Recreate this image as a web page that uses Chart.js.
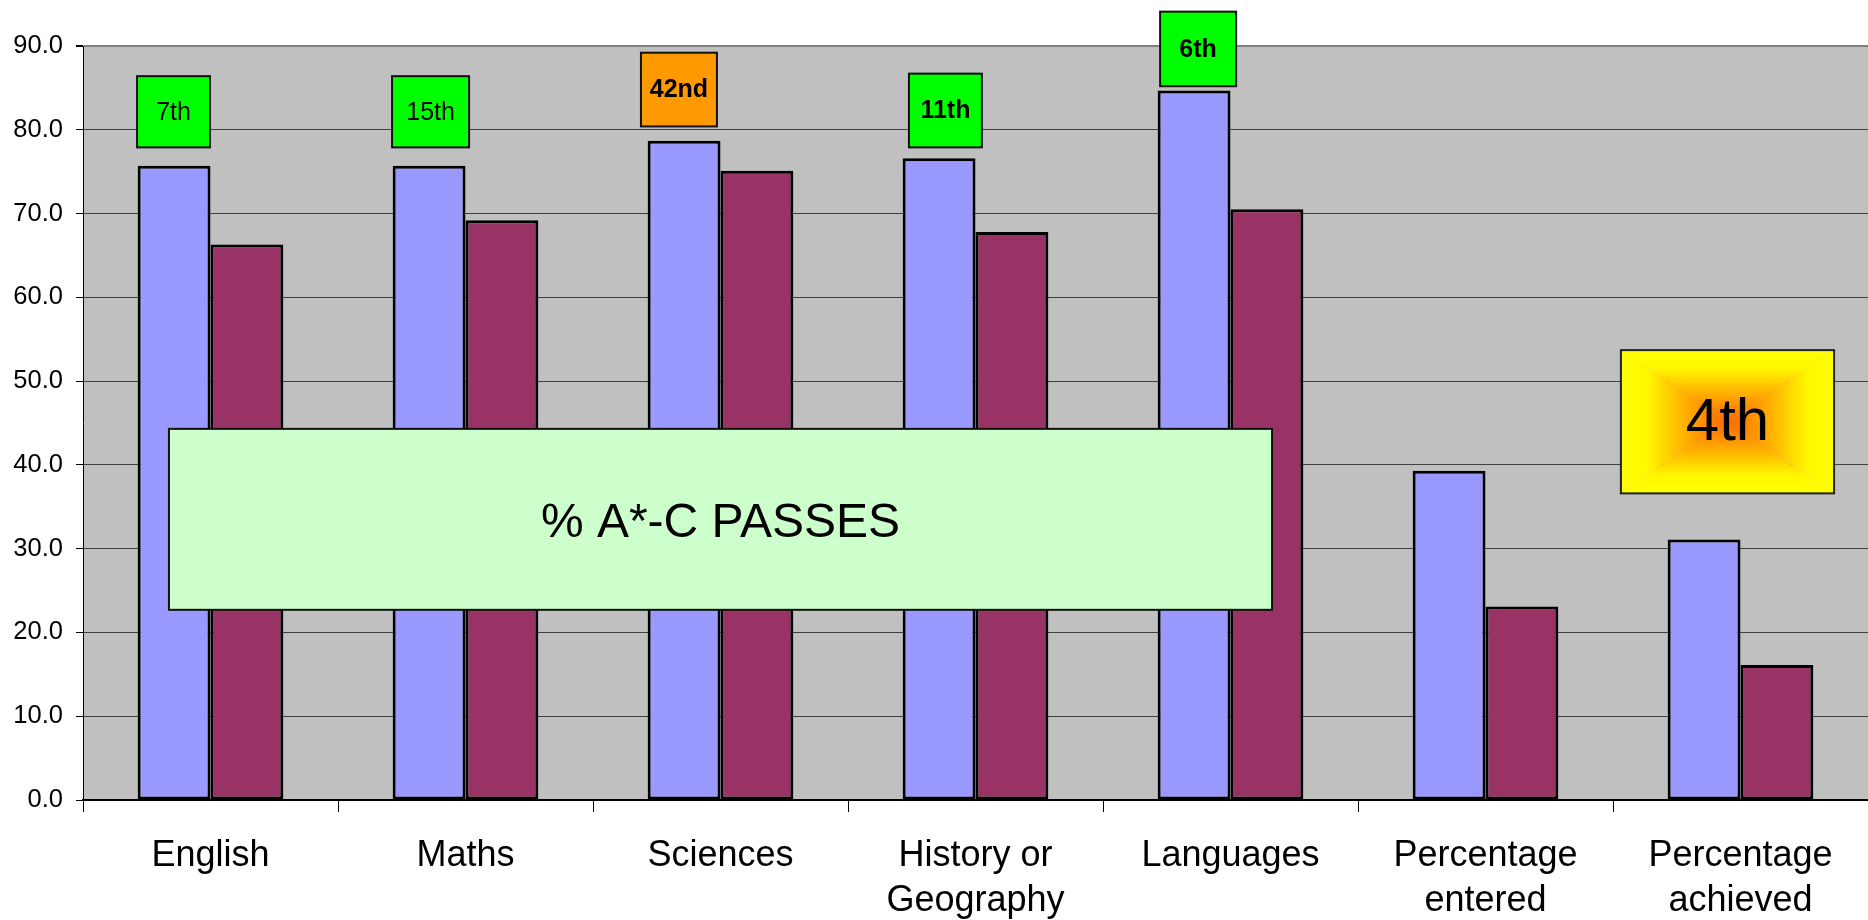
<!DOCTYPE html>
<html><head><meta charset="utf-8">
<script src="https://cdn.jsdelivr.net/npm/chart.js@4.4.1/dist/chart.umd.min.js"></script>
<style>html,body{margin:0;padding:0;background:#fff;}canvas{display:block;}</style>
</head><body>
<canvas id="c" width="1868" height="920"></canvas>
<script>
// ---- data ----
const categories = [['English'], ['Maths'], ['Sciences'], ['History or', 'Geography'], ['Languages'], ['Percentage', 'entered'], ['Percentage', 'achieved']];
const seriesA = [75.7, 75.7, 78.7, 76.6, 84.7, 39.3, 31.1];
const seriesB = [66.3, 69.2, 75.1, 67.8, 70.5, 23.1, 16.1];
const yTicks = [0, 10, 20, 30, 40, 50, 60, 70, 80, 90];
const rankLabels = ['7th', '15th', '42nd', '11th', '6th'];
const overallRank = '4th';
const boxTitle = '% A*-C PASSES';

// ---- annotation layout (category units / value units) ----
const rankBoxLayout = [
  {cat: 0, dx: -0.145, w: 0.286, top: 86.4, bottom: 77.9, bold: false, fill: '#00FF00'},
  {cat: 1, dx: -0.137, w: 0.302, top: 86.4, bottom: 77.9, bold: false, fill: '#00FF00'},
  {cat: 2, dx: -0.163, w: 0.298, top: 89.2, bottom: 80.4, bold: true, fill: '#FF9900'},
  {cat: 3, dx: -0.118, w: 0.286, top: 86.7, bottom: 77.9, bold: true, fill: '#00FF00'},
  {cat: 4, dx: -0.127, w: 0.298, top: 94.1, bottom: 85.2, bold: true, fill: '#00FF00'}
];
const overallLayout = {cat: 6, x0: -0.469, x1: 0.367, top: 53.7, bottom: 36.6};
const titleLayout = {x0: -0.163, x1: 4.163, top: 44.3, bottom: 22.7};

const FONT = "'Liberation Sans', Arial, sans-serif";

const bgPlugin = {
  id: 'bg',
  beforeDraw(chart) {
    const {ctx, chartArea: a} = chart;
    ctx.save();
    ctx.fillStyle = '#C0C0C0';
    ctx.fillRect(a.left, a.top, a.right - a.left, a.bottom - a.top);
    ctx.restore();
  }
};

function box(ctx, x0, y0, x1, y1, fill, stroke) {
  ctx.fillStyle = fill;
  ctx.fillRect(x0, y0, x1 - x0, y1 - y0);
  ctx.lineWidth = 2;
  ctx.strokeStyle = stroke;
  ctx.strokeRect(x0, y0, x1 - x0, y1 - y0);
}

const annoPlugin = {
  id: 'anno',
  afterDatasetsDraw(chart) {
    const {ctx} = chart;
    const xs = chart.scales.x, ys = chart.scales.y;
    const cw = xs.getPixelForValue(1) - xs.getPixelForValue(0);
    const cx = (i) => xs.getPixelForValue(i);
    ctx.save();
    rankBoxLayout.forEach((b, i) => {
      const c = cx(b.cat) + b.dx * cw;
      const x0 = c - b.w * cw / 2, x1 = c + b.w * cw / 2;
      const y0 = ys.getPixelForValue(b.top), y1 = ys.getPixelForValue(b.bottom);
      box(ctx, x0, y0, x1, y1, b.fill, '#111');
      ctx.fillStyle = '#000';
      ctx.font = (b.bold ? 'bold ' : '') + '25px ' + FONT;
      ctx.textAlign = 'center';
      ctx.textBaseline = 'middle';
      ctx.fillText(rankLabels[i], c, (y0 + y1) / 2 + 1);
    });
    {
      const x0 = cx(0) + titleLayout.x0 * cw, x1 = cx(0) + titleLayout.x1 * cw;
      const y0 = ys.getPixelForValue(titleLayout.top), y1 = ys.getPixelForValue(titleLayout.bottom);
      box(ctx, x0, y0, x1, y1, '#CCFFCC', '#111');
      ctx.fillStyle = '#000';
      ctx.font = '48px ' + FONT;
      ctx.textAlign = 'center';
      ctx.textBaseline = 'middle';
      ctx.fillText(boxTitle, (x0 + x1) / 2, (y0 + y1) / 2 + 4);
    }
    {
      const o = overallLayout;
      const x0 = cx(o.cat) + o.x0 * cw, x1 = cx(o.cat) + o.x1 * cw;
      const y0 = ys.getPixelForValue(o.top), y1 = ys.getPixelForValue(o.bottom);
      const mx = (x0 + x1) / 2, my = (y0 + y1) / 2;
      const stops = [[0, '#FFFF00'], [0.25, '#FFF800'], [0.6, '#FFB000'], [1, '#FF6600']];
      const tri = (ax, ay, bx, by, gx0, gy0) => {
        const g = ctx.createLinearGradient(gx0, gy0, mx, my);
        stops.forEach(s => g.addColorStop(s[0], s[1]));
        ctx.beginPath();
        ctx.moveTo(ax, ay); ctx.lineTo(bx, by); ctx.lineTo(mx, my); ctx.closePath();
        ctx.fillStyle = g;
        ctx.fill();
      };
      tri(x0, y0, x1, y0, mx, y0);
      tri(x0, y1, x1, y1, mx, y1);
      tri(x0, y0, x0, y1, x0, my);
      tri(x1, y0, x1, y1, x1, my);
      ctx.lineWidth = 2;
      ctx.strokeStyle = '#222';
      ctx.strokeRect(x0, y0, x1 - x0, y1 - y0);
      ctx.fillStyle = '#000';
      ctx.font = '60px ' + FONT;
      ctx.textAlign = 'center';
      ctx.textBaseline = 'middle';
      ctx.fillText(overallRank, mx, my + 2);
    }
    ctx.restore();
  }
};

new Chart(document.getElementById('c'), {
  type: 'bar',
  data: {
    labels: categories,
    datasets: [
      {data: seriesA, backgroundColor: '#9999FF', borderColor: '#000', borderWidth: 3, borderSkipped: false},
      {data: seriesB, backgroundColor: '#993366', borderColor: '#000', borderWidth: 3, borderSkipped: false}
    ]
  },
  options: {
    responsive: false,
    animation: false,
    layout: {padding: {top: 46, right: 0, left: 0, bottom: 0}},
    datasets: {bar: {categoryPercentage: 0.5714, barPercentage: 1}},
    plugins: {legend: {display: false}, tooltip: {enabled: false}},
    scales: {
      x: {
        grid: {display: true, drawOnChartArea: false, drawTicks: true, tickLength: 12, tickColor: '#000', offset: true},
        border: {display: true, color: '#000', width: 2},
        ticks: {color: '#000', font: {family: FONT, size: 36, lineHeight: 1.25}, padding: 22, maxRotation: 0, autoSkip: false},
        afterFit(s) { s.height = 120; }
      },
      y: {
        min: 0, max: 90,
        afterBuildTicks(s) { s.ticks = yTicks.map(v => ({value: v})); },
        grid: {
          color: (c) => c.tick && c.tick.value === 90 ? '#808080' : '#404040',
          lineWidth: (c) => c.tick && c.tick.value === 90 ? 2 : 1,
          tickLength: 7, tickColor: '#000'
        },
        border: {display: true, color: '#000', width: 1},
        ticks: {color: '#000', font: {family: FONT, size: 25.5}, padding: 13, callback: (v) => Number(v).toFixed(1)},
        afterFit(s) { s.width = 83; }
      }
    }
  },
  plugins: [bgPlugin, annoPlugin]
});
</script>
</body></html>
